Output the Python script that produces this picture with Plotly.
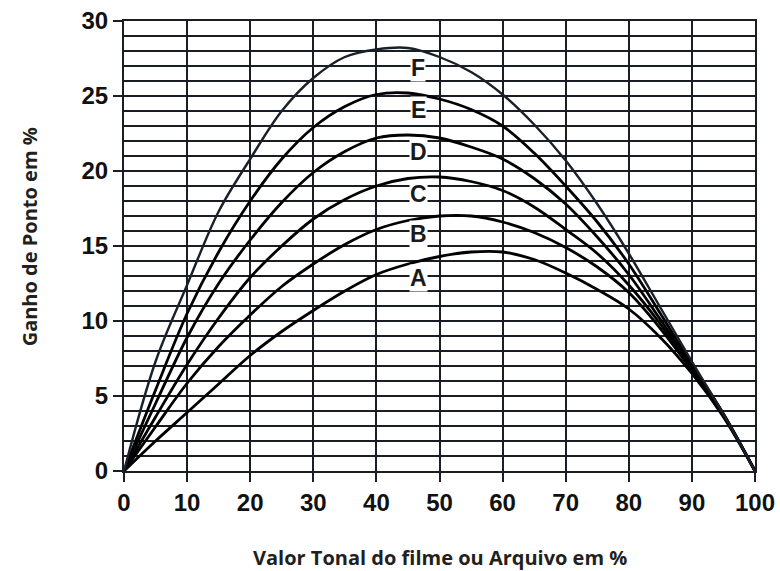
import plotly.graph_objects as go

x_vals = [0, 5, 10, 15, 20, 25, 30, 35, 40, 45, 50, 55, 60, 65, 70, 75, 80, 85, 90, 95, 100]

curve_A = [0, 2.0, 3.9, 5.8, 7.7, 9.3, 10.7, 12.0, 13.1, 13.8, 14.3, 14.6, 14.6, 14.1, 13.2, 12.1, 10.8, 8.9, 6.5, 3.6, 0]
curve_B = [0, 2.95, 5.85, 8.3, 10.4, 12.3, 13.8, 15.1, 16.1, 16.7, 17.0, 17.0, 16.6, 15.9, 14.9, 13.6, 11.9, 9.5, 6.7, 3.7, 0]
curve_C = [0, 3.6, 7.1, 10.2, 12.9, 15.0, 16.8, 18.1, 19.0, 19.5, 19.6, 19.3, 18.7, 17.6, 16.1, 14.5, 12.4, 9.8, 6.8, 3.7, 0]
curve_D = [0, 4.5, 8.9, 12.5, 15.4, 17.9, 19.9, 21.3, 22.2, 22.4, 22.2, 21.6, 20.8, 19.5, 17.8, 15.6, 13.1, 10.1, 7.0, 3.8, 0]
curve_E = [0, 5.4, 10.5, 14.6, 18.0, 20.8, 22.9, 24.3, 25.1, 25.2, 24.8, 24.1, 23.0, 21.2, 19.0, 16.6, 13.8, 10.5, 7.1, 3.8, 0]
curve_F = [0, 7.3, 12.4, 17.3, 20.8, 24.0, 26.2, 27.6, 28.1, 28.2, 27.6, 26.6, 25.1, 23.1, 20.7, 17.8, 14.5, 10.9, 7.3, 3.8, 0]

curve_names = ["A", "B", "C", "D", "E", "F"]
label_x = [46.6, 46.6, 46.6, 46.6, 46.6, 46.6]
label_y = [12.9, 15.8, 18.5, 21.3, 24.1, 26.9]

x_ticks = [0, 10, 20, 30, 40, 50, 60, 70, 80, 90, 100]
y_ticks = [0, 5, 10, 15, 20, 25, 30]

x_title = "Valor Tonal do filme ou Arquivo em %"
y_title = "Ganho de Ponto em %"

grid_col = "#1a1e24"
ink = "#111111"

fig = go.Figure()
series = [curve_A, curve_B, curve_C, curve_D, curve_E, curve_F]
for name, ys in zip(curve_names, series):
    is_f = name == "F"
    fig.add_trace(go.Scatter(
        x=x_vals, y=ys, mode="lines", name=name,
        line=dict(color="#18202a" if is_f else "#000000", width=2.4 if is_f else 2.8,
                  shape="spline", smoothing=1.0),
        showlegend=False, hoverinfo="skip",
    ))

for name, lx, ly in zip(curve_names, label_x, label_y):
    fig.add_annotation(
        x=lx, y=ly, text=f"<b>{name}</b>", showarrow=False,
        font=dict(family="Liberation Sans, Arial, sans-serif", size=23, color="#1a1a1a"),
        bgcolor="white", borderpad=0, xanchor="center", yanchor="middle",
    )

fig.add_annotation(
    x=0.5, y=-0.192, xref="paper", yref="paper", text=f"<b>{x_title}</b>",
    showarrow=False, xanchor="center", yanchor="middle",
    font=dict(family="Open Sans, sans-serif", size=20, color="#231f20"),
)
fig.add_annotation(
    x=-0.15, y=0.52, xref="paper", yref="paper", text=f"<b>{y_title}</b>",
    showarrow=False, xanchor="center", yanchor="middle", textangle=-90,
    font=dict(family="Open Sans, sans-serif", size=20, color="#231f20"),
)

tick_font = dict(family="Liberation Sans, Arial, sans-serif", size=24, color=ink)

fig.update_xaxes(
    range=[0, 100], tickvals=x_ticks, ticktext=[f"<b>{v}</b>" for v in x_ticks],
    ticks="outside", ticklen=9, tickwidth=2, tickcolor=grid_col,
    showgrid=True, gridcolor=grid_col, gridwidth=2,
    showline=True, linecolor=grid_col, linewidth=2, mirror=True,
    zeroline=False, tickfont=tick_font, fixedrange=True,
)
fig.update_yaxes(
    range=[0, 30], tickvals=y_ticks, ticktext=[f"<b>{v}</b>" for v in y_ticks],
    ticks="outside", ticklen=9, tickwidth=2, tickcolor=grid_col,
    showgrid=True, gridcolor=grid_col, gridwidth=1.6,
    minor=dict(dtick=1, showgrid=True, gridcolor=grid_col, gridwidth=1.6, ticks=""),
    showline=True, linecolor=grid_col, linewidth=2, mirror=True,
    zeroline=False, tickfont=tick_font, fixedrange=True,
)

fig.update_layout(
    width=780, height=571,
    margin=dict(l=124, r=25, t=21, b=100, autoexpand=False),
    paper_bgcolor="white", plot_bgcolor="white",
)

fig.write_html(
    "out.html",
    config={"displayModeBar": False},
    post_script="document.body.style.margin='0';document.body.style.overflow='hidden';",
)
